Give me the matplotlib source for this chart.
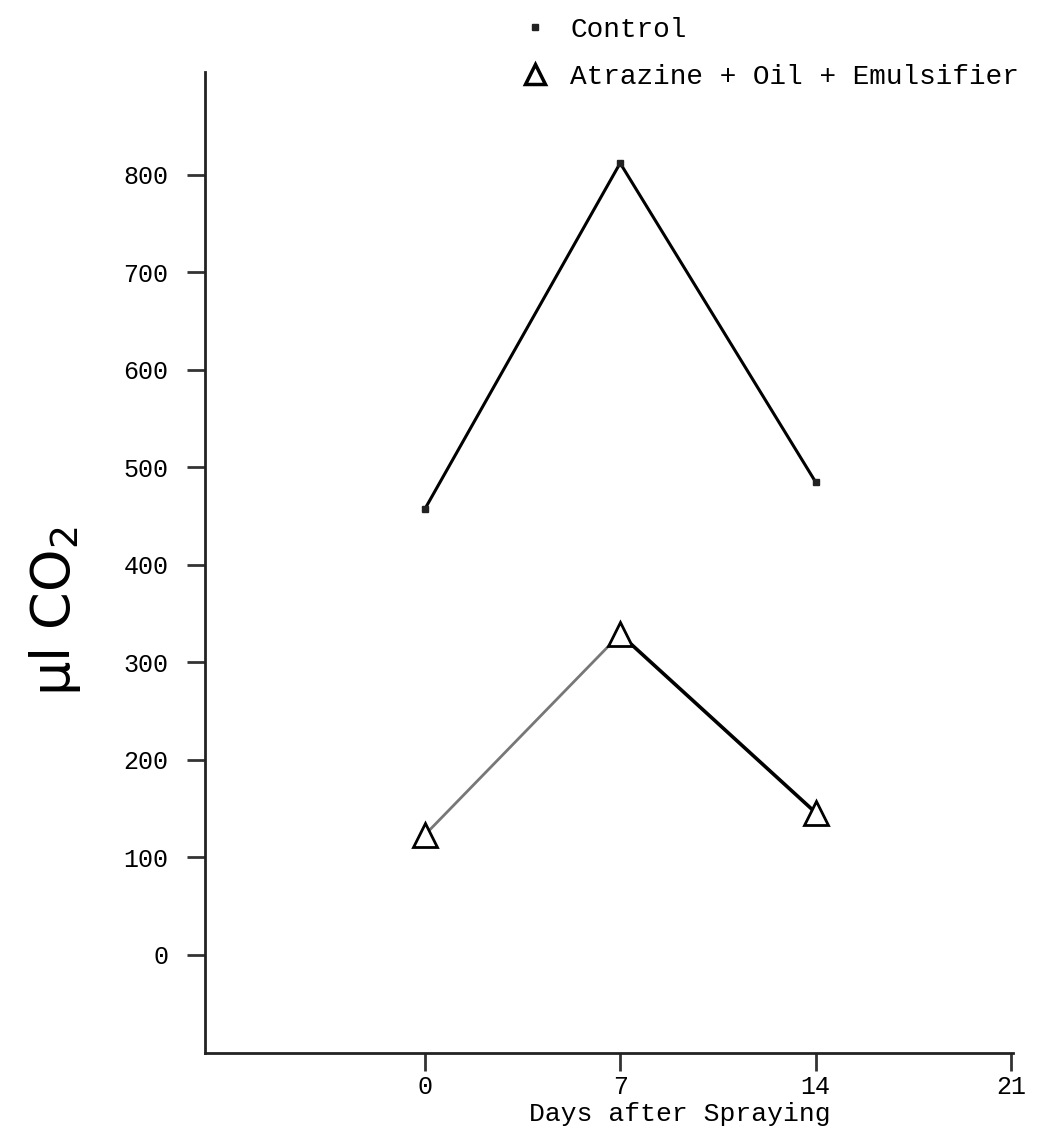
# CO2 evolution after spraying - Control vs Atrazine + Oil + Emulsifier
import matplotlib.pyplot as plt
from matplotlib.lines import Line2D

# data
days = [0, 7, 14]
control = [457, 812, 485]
atrazine = [123, 329, 146]

x_ticks = [0, 7, 14, 21]
y_ticks = [0, 100, 200, 300, 400, 500, 600, 700, 800]

mono = "Liberation Mono"

fig = plt.figure(figsize=(10.39, 11.33), dpi=100)
ax = fig.add_axes([0.197, 0.0706, 0.778, 0.866])

# control line with small square dots
ax.plot(days, control, color="black", linewidth=2.2, zorder=2)
ax.plot(days, control, linestyle="none", marker="s", markersize=4.5,
        color="#222222", zorder=3)

# atrazine: lighter segment up, darker segment down
ax.plot(days[:2], atrazine[:2], color="#777777", linewidth=2, zorder=2)
ax.plot(days[1:], atrazine[1:], color="black", linewidth=2.6, zorder=2)
ax.plot(days, atrazine, linestyle="none", marker="^", markersize=17,
        markerfacecolor="white", markeredgecolor="black",
        markeredgewidth=2, zorder=3)

# axes
ax.set_xlim(-7.88, 21.07)
ax.set_ylim(-100.5, 905.6)
for s in ["top", "right"]:
    ax.spines[s].set_visible(False)
for s in ["left", "bottom"]:
    ax.spines[s].set_linewidth(2)
    ax.spines[s].set_color("#222222")

ax.set_xticks(x_ticks)
ax.set_xticklabels([str(v) for v in x_ticks], family=mono, fontsize=18)
ax.set_yticks(y_ticks)
ax.set_yticklabels([str(v) for v in y_ticks], family=mono, fontsize=18)
ax.tick_params(axis="both", direction="out", length=13, width=2,
               color="#333333")
ax.tick_params(axis="y", pad=13)
ax.tick_params(axis="x", pad=3)

ax.set_xlabel("Days after Spraying", family=mono, fontsize=19)
ax.xaxis.set_label_coords(0.588, -0.05)
ax.set_ylabel("µl CO$_2$", family="DejaVu Sans", fontsize=39)
ax.yaxis.set_label_coords(-0.15, 0.45)

# legend (markers only)
handles = [
    Line2D([], [], linestyle="none", marker="s", markersize=4.5, color="#222222"),
    Line2D([], [], linestyle="none", marker="^", markersize=15,
           markerfacecolor="white", markeredgecolor="black", markeredgewidth=2.5),
]
fig.legend(handles, ["Control", "Atrazine + Oil + Emulsifier"],
           loc="upper left", bbox_to_anchor=(0.502, 0.985), frameon=False,
           prop={"family": mono, "size": 20}, handlelength=1,
           handletextpad=0.75, labelspacing=0.75, borderpad=0,
           borderaxespad=0)

plt.savefig("out.png", dpi=100)
